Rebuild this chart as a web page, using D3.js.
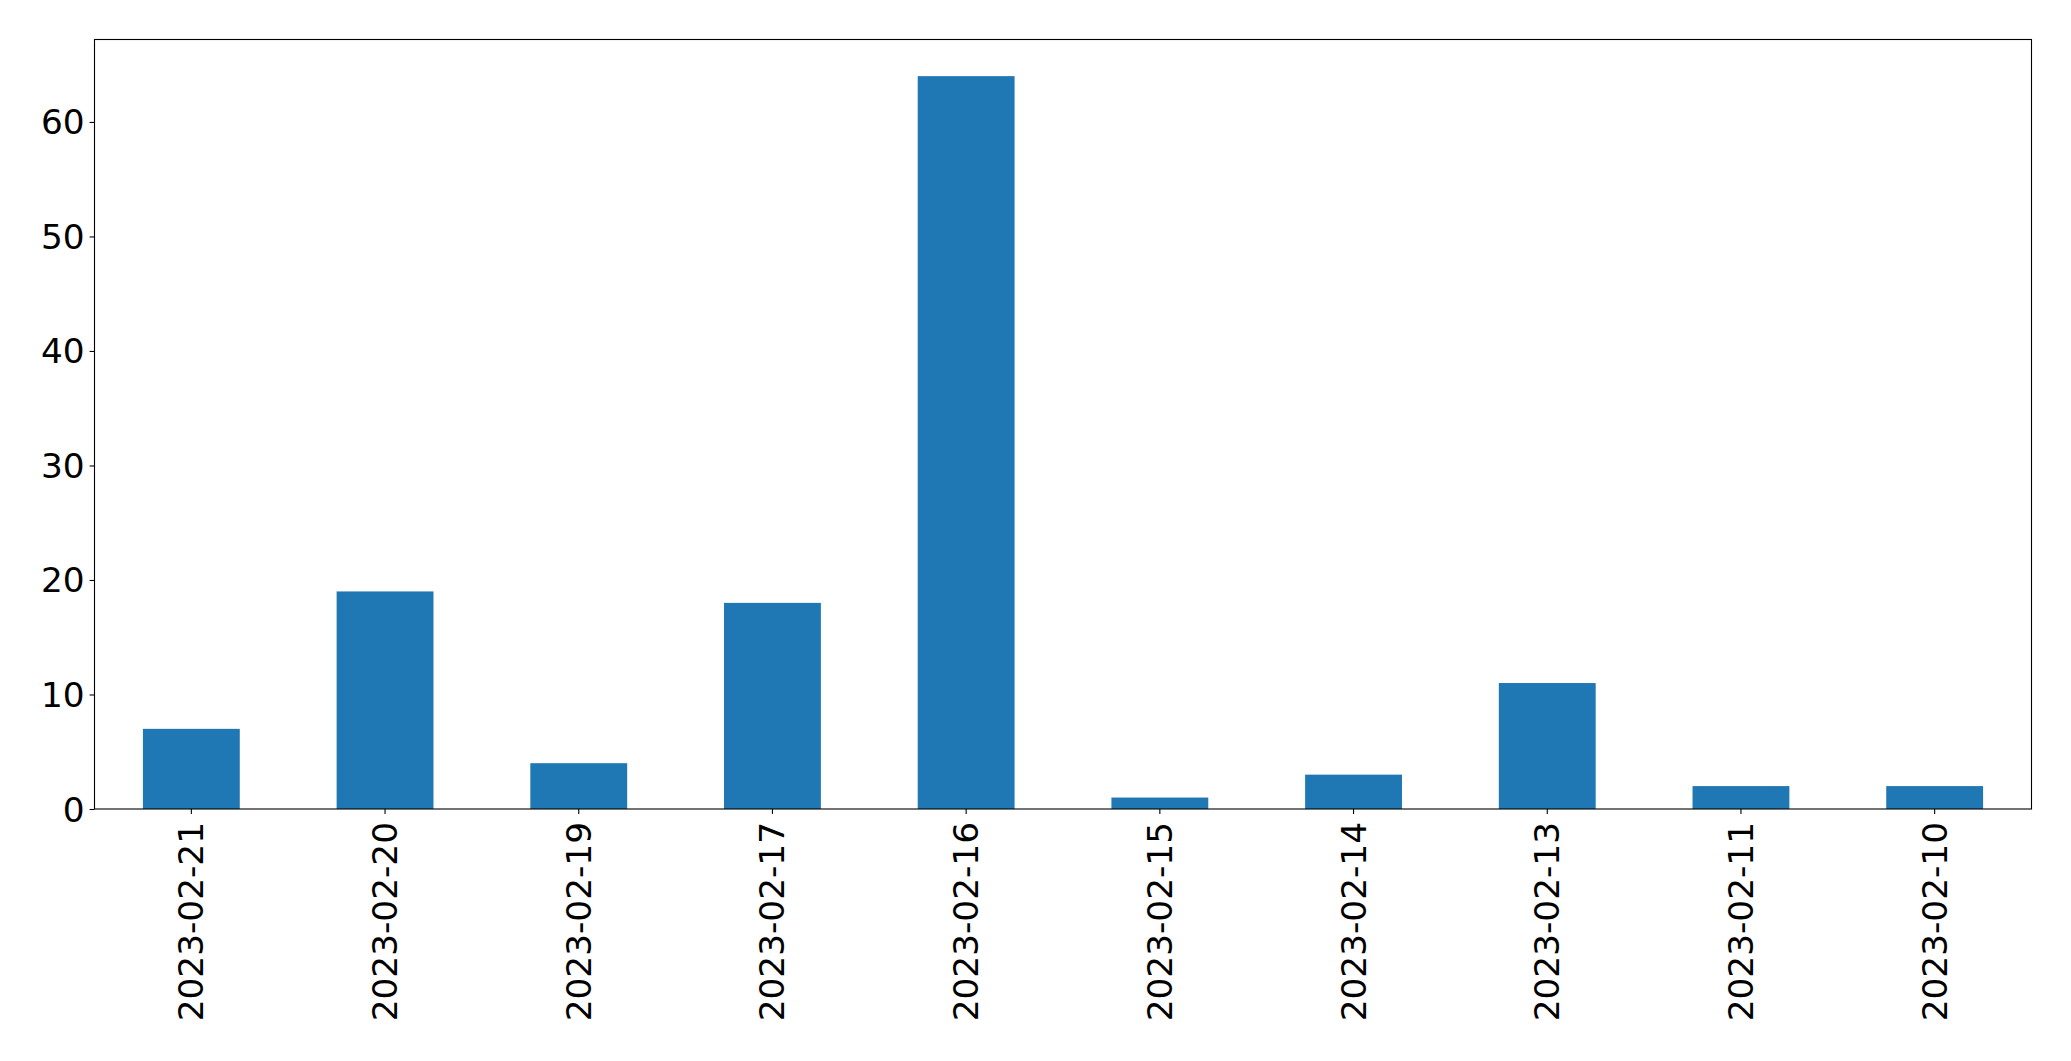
<!DOCTYPE html>
<html>
<head>
<meta charset="utf-8">
<script src="https://cdn.jsdelivr.net/npm/d3@7"></script>
<style>
  html, body { margin: 0; padding: 0; background: #fff; }
  svg { display: block; }
  text { font-family: "DejaVu Sans", sans-serif; fill: #000; }
</style>
</head>
<body>
<svg id="chart" width="2071" height="1061"></svg>
<script>
const categories = ["2023-02-21","2023-02-20","2023-02-19","2023-02-17","2023-02-16","2023-02-15","2023-02-14","2023-02-13","2023-02-11","2023-02-10"];
const values = [7, 19, 4, 18, 64, 1, 3, 11, 2, 2];
const yTicks = [0, 10, 20, 30, 40, 50, 60];

const W = 2071, H = 1061;
const margin = {left: 94.5, right: W - 2031.5, top: 39.5, bottom: H - 809};
const svg = d3.select("#chart");
const iw = W - margin.left - margin.right;
const ih = H - margin.top - margin.bottom;
const g = svg.append("g").attr("transform", `translate(${margin.left},${margin.top})`);

const x = d3.scaleBand().domain(categories).range([0, iw]).paddingInner(0.5).paddingOuter(0.25);
const y = d3.scaleLinear().domain([0, d3.max(values) * 1.05]).range([ih, 0]);

g.selectAll("rect.bar").data(values).join("rect")
  .attr("class", "bar")
  .attr("x", (d, i) => x(categories[i]))
  .attr("width", x.bandwidth())
  .attr("y", d => y(d))
  .attr("height", d => y(0) - y(d))
  .attr("fill", "#1f77b4");

const fs = 34.3;
// y axis
const yAxis = g.append("g").call(d3.axisLeft(y).tickValues(yTicks).tickSize(4.9).tickPadding(5).tickFormat(d3.format("d")));
yAxis.select(".domain").remove();
yAxis.selectAll("line").attr("stroke", "#000").attr("stroke-width", 1.1);
yAxis.selectAll("text").attr("font-size", fs).attr("font-family", "DejaVu Sans").attr("dy", "0.35em");

// x axis
const xAxis = g.append("g").attr("transform", `translate(0,${ih})`)
  .call(d3.axisBottom(x).tickSize(4.9).tickPadding(0));
xAxis.select(".domain").remove();
xAxis.selectAll("line").attr("stroke", "#000").attr("stroke-width", 1.1);
xAxis.selectAll("text")
  .attr("font-size", fs).attr("font-family", "DejaVu Sans")
  .attr("text-anchor", "end")
  .attr("transform", "translate(0,13) rotate(-90)")
  .attr("x", 0).attr("y", 0)
  .attr("dy", "0.35em");

// frame
g.append("rect").attr("x", 0).attr("y", 0).attr("width", iw).attr("height", ih)
  .attr("fill", "none").attr("stroke", "#000").attr("stroke-width", 1.1);
</script>
</body>
</html>
